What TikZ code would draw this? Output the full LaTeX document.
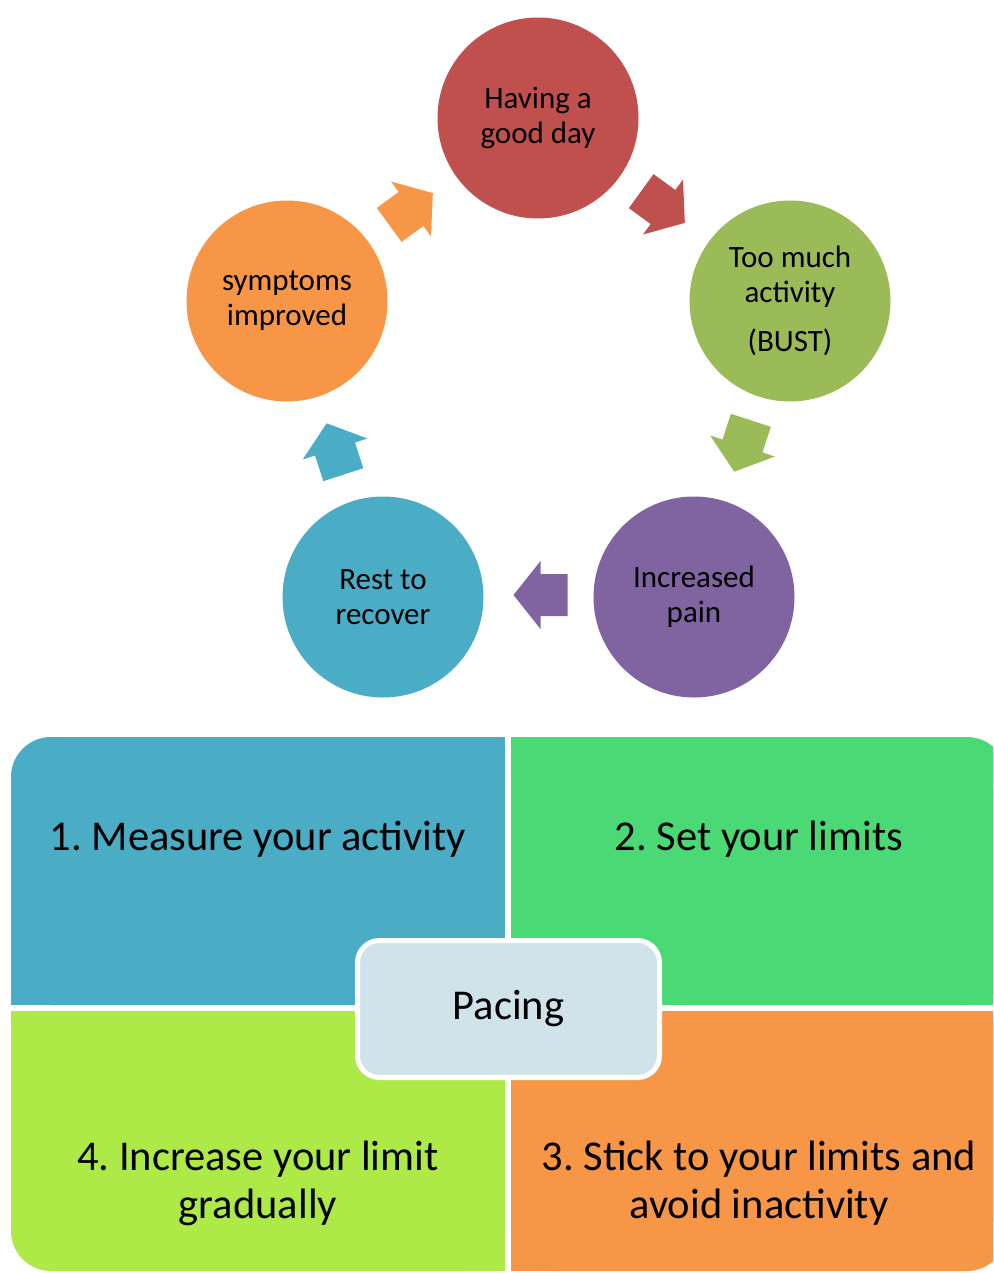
\documentclass[tikz,border=0pt]{standalone}
\usepackage{fontspec}
\setmainfont{Carlito}
\frenchspacing
\definecolor{cred}{HTML}{C0504D}
\definecolor{cgreen}{HTML}{9BBB59}
\definecolor{cpurple}{HTML}{8064A2}
\definecolor{cblue}{HTML}{4BACC6}
\definecolor{corange}{HTML}{F79646}
\definecolor{qgreen}{HTML}{4BD975}
\definecolor{qlime}{HTML}{ADEA47}
\definecolor{pacingfill}{HTML}{D0E2EA}
\tikzset{
  cyc/.style={circle, minimum size=201pt, inner sep=0pt, align=center,
    font=\fontsize{31}{35}\selectfont},
  quadtext/.style={align=center, font=\fontsize{42.5}{48}\selectfont},
  cyclearrow/.pic={\path[pic actions] (-27,-21) -- (0,-21) -- (0,-34) -- (27,0)
      -- (0,34) -- (0,21) -- (-27,21) -- cycle;}
}
\begin{document}
\begin{tikzpicture}[x=1pt,y=-1pt]
\useasboundingbox (0,0) rectangle (993,1273);

% cycle of five stages
\node[cyc, fill=cred]    (good)  at (538,118) {Having a\\good day};
\node[cyc, fill=cgreen]  (much)  at (790,301) {Too much\\activity\\[14pt](BUST)};
\node[cyc, fill=cpurple] (pain)  at (694,597) {Increased\\pain};
\node[cyc, fill=cblue]   (rest)  at (383,597) {Rest to\\recover};
\node[cyc, fill=corange] (impr)  at (287,301) {symptoms\\improved};

% block arrows between the stages
\pic[fill=cred, rotate=-36]     at (663,207)   {cyclearrow};
\pic[fill=cgreen, rotate=-108]  at (742.5,446) {cyclearrow};
\pic[fill=cpurple, rotate=180]  at (540.5,595) {cyclearrow};
\pic[fill=cblue, rotate=108]    at (335,449)   {cyclearrow};
\pic[fill=corange, rotate=36]   at (411,209)   {cyclearrow};

% four quadrants, only the outer corners rounded
\begin{scope}
\clip (0,0) rectangle (993,1273);
\fill[cblue, rounded corners=40] (11,737) rectangle (505,1005);
\fill[cblue] (61,737) rectangle (505,1005);
\fill[cblue] (11,787) rectangle (505,1005);

\fill[qgreen, rounded corners=40] (511,737) rectangle (1007,1005);
\fill[qgreen] (511,737) rectangle (957,1005);
\fill[qgreen] (511,787) rectangle (1007,1005);

\fill[qlime, rounded corners=40] (11,1011) rectangle (505,1271);
\fill[qlime] (61,1011) rectangle (505,1271);
\fill[qlime] (11,1011) rectangle (505,1221);

\fill[corange, rounded corners=40] (511,1011) rectangle (1007,1271);
\fill[corange] (511,1011) rectangle (957,1271);
\fill[corange] (511,1011) rectangle (1007,1221);
\end{scope}

\node[quadtext] (q1) at (258,839) {1. Measure your activity};
\node[quadtext] (q2) at (759,839) {2. Set your limits};
\node[quadtext] (q4) at (258,1183) {4. Increase your limit\\gradually};
\node[quadtext] (q3) at (759,1183) {3. Stick to your limits and\\avoid inactivity};

\node[draw=white, line width=5pt, fill=pacingfill, rounded corners=22pt,
  minimum width=302pt, minimum height=137pt, inner sep=0pt,
  font=\fontsize{42.5}{48}\selectfont] (pacing) at (508.5,1009) {Pacing};
\end{tikzpicture}
\end{document}
